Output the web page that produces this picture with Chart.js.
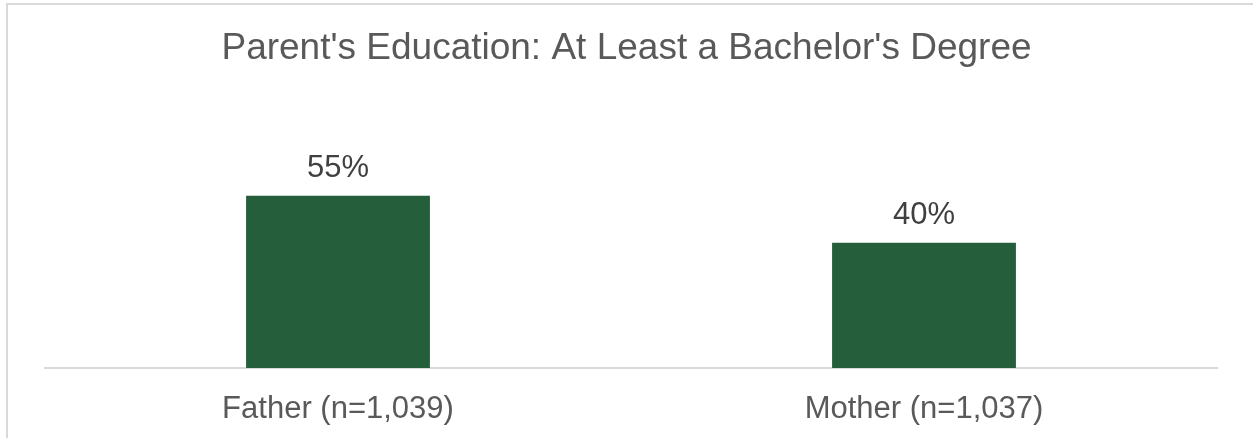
<!DOCTYPE html>
<html>
<head>
<meta charset="utf-8">
<title>Parent's Education: At Least a Bachelor's Degree</title>
<script src="https://cdn.jsdelivr.net/npm/chart.js@4.4.1/dist/chart.umd.min.js"></script>
<style>
  html, body { margin: 0; padding: 0; background: #ffffff; }
  #wrap { position: relative; width: 1253px; height: 438px; }
  canvas { display: block; }
</style>
</head>
<body>
<div id="wrap"><canvas id="chart" width="1253" height="438"></canvas></div>
<script>
// Share of respondents whose parent holds at least a bachelor's degree
const chartTitle = "Parent's Education: At Least a Bachelor's Degree";
const categories = ["Father (n=1,039)", "Mother (n=1,037)"];
const percentValues = [55, 40];
const axisMax = 60;

const FONT = "'Liberation Sans', Arial, Helvetica, sans-serif";
const BAR_GREEN = '#245E3B';

// Light frame around the chart (open to the right and bottom) and the centred title
const framePlugin = {
  id: 'frame',
  beforeDraw(chart) {
    const ctx = chart.ctx;
    ctx.save();
    ctx.fillStyle = '#ffffff';
    ctx.fillRect(0, 0, chart.width, chart.height);
    ctx.strokeStyle = '#D9D9D9';
    ctx.lineWidth = 2;
    ctx.strokeRect(7, 4, chart.width + 20, chart.height + 20);
    ctx.font = '37px ' + FONT;
    ctx.fillStyle = '#595959';
    ctx.textAlign = 'center';
    ctx.textBaseline = 'alphabetic';
    ctx.fillText(chartTitle, chart.width / 2, 59);
    ctx.restore();
  }
};

// Percentage labels above each bar
const valueLabelPlugin = {
  id: 'valueLabels',
  afterDatasetsDraw(chart) {
    const ctx = chart.ctx;
    const meta = chart.getDatasetMeta(0);
    const data = chart.data.datasets[0].data;
    ctx.save();
    ctx.font = '31px ' + FONT;
    ctx.fillStyle = '#404040';
    ctx.textAlign = 'center';
    ctx.textBaseline = 'alphabetic';
    meta.data.forEach((bar, i) => {
      ctx.fillText(data[i] + '%', bar.x, bar.y - 19);
    });
    ctx.restore();
  }
};

new Chart(document.getElementById('chart'), {
  type: 'bar',
  data: {
    labels: categories,
    datasets: [{
      data: percentValues,
      backgroundColor: BAR_GREEN,
      borderWidth: 0,
      categoryPercentage: 1,
      barPercentage: 0.3137
    }]
  },
  options: {
    responsive: false,
    animation: false,
    devicePixelRatio: 1,
    layout: { padding: { left: 45, right: 36, top: 180, bottom: 0 } },
    plugins: {
      legend: { display: false },
      tooltip: { enabled: false },
      title: { display: false }
    },
    scales: {
      x: {
        grid: { display: false, drawTicks: false },
        border: { display: true, color: '#D9D9D9', width: 2 },
        ticks: {
          color: '#595959',
          font: { family: FONT, size: 31, lineHeight: 1.2 },
          padding: 23,
          maxRotation: 0
        },
        afterFit(scale) { scale.height = 70; }
      },
      y: {
        display: false,
        min: 0,
        max: axisMax
      }
    }
  },
  plugins: [framePlugin, valueLabelPlugin]
});
</script>
</body>
</html>
